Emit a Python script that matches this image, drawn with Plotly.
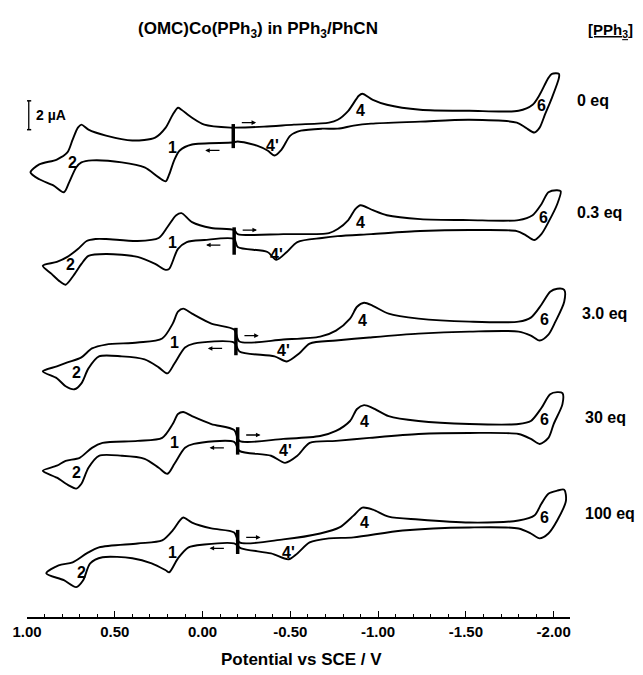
import plotly.graph_objects as go

# ---------------- data (potential in V vs SCE, current in uA relative to start point) -------------
conc_labels = ["0 eq", "0.3 eq", "3.0 eq", "30 eq", "100 eq"]
offsets = [33.38, 26.07, 19.10, 12.21, 5.24]  # vertical stacking offsets (uA)

E_0 = [0.98, 0.93, 0.83, 0.77, 0.74, 0.71, 0.69, 0.65, 0.55, 0.40, 0.27, 0.21, 0.17, 0.14, 0.12, 0.06, -0.01,
       -0.16, -0.18, -0.35, -0.52, -0.72, -0.77, -0.83, -0.89, -0.91, -0.97, -1.05, -1.24, -1.52, -1.80, -1.88,
       -1.92, -1.97, -1.99, -2.03, -2.03, -1.99, -1.95, -1.92, -1.89, -1.84, -1.79, -1.52, -1.24, -0.96, -0.86,
       -0.77, -0.68, -0.56, -0.50, -0.45, -0.41, -0.37, -0.31, -0.20, -0.17, 0.06, 0.13, 0.16, 0.19, 0.21, 0.25,
       0.33, 0.46, 0.63, 0.69, 0.72, 0.76, 0.79, 0.85, 0.93, 0.98]
I_0 = [-2.55, -2.00, -1.66, -1.17, -0.28, 0.55, 0.76, 0.41, 0.00, -0.34, -0.14, 0.55, 1.45, 1.93, 1.79, 1.24, 0.76,
       0.55, 0.55, 0.62, 0.76, 0.90, 1.10, 1.72, 2.76, 2.90, 2.48, 2.14, 1.79, 1.72, 1.72, 2.14, 2.83, 4.00, 4.28,
       4.28, 4.00, 2.62, 1.45, 0.55, 0.21, 0.55, 0.90, 1.10, 0.97, 0.83, 0.69, 0.48, 0.48, 0.34, 0.00, -0.97, -1.38,
       -1.03, -0.69, -0.41, -0.48, -0.62, -1.03, -1.66, -2.69, -3.17, -2.90, -2.21, -1.86, -1.72, -1.86, -2.21,
       -3.24, -3.93, -3.45, -3.03, -2.55]

E_03 = [0.91, 0.83, 0.77, 0.71, 0.66, 0.61, 0.55, 0.37, 0.25, 0.20, 0.15, 0.12, 0.06, -0.05, -0.18, -0.20, -0.46,
        -0.72, -0.77, -0.83, -0.87, -0.90, -0.97, -1.05, -1.24, -1.52, -1.80, -1.88, -1.93, -1.97, -2.02, -2.04,
        -2.02, -1.97, -1.93, -1.89, -1.84, -1.79, -1.52, -1.24, -0.96, -0.77, -0.68, -0.54, -0.48, -0.42, -0.37,
        -0.20, -0.18, -0.01, 0.09, 0.14, 0.19, 0.21, 0.27, 0.37, 0.55, 0.65, 0.69, 0.74, 0.78, 0.81, 0.86, 0.91]
I_03 = [-1.72, -1.45, -1.10, -0.55, 0.00, 0.14, 0.14, 0.00, 0.21, 0.97, 1.79, 1.93, 1.31, 0.90, 0.76, 0.48, 0.48,
        0.55, 0.83, 1.45, 2.21, 2.48, 2.14, 1.79, 1.52, 1.45, 1.45, 1.79, 2.55, 3.38, 3.52, 3.45, 2.55, 1.31, 0.48,
        0.07, 0.41, 0.69, 0.76, 0.69, 0.48, 0.34, 0.21, -0.07, -0.76, -1.31, -0.76, -0.41, 0.14, 0.07, -0.07,
        -0.55, -1.93, -2.00, -1.59, -1.10, -0.90, -1.03, -1.59, -2.48, -3.03, -2.83, -2.28, -1.72]

E_3 = [0.91, 0.83, 0.77, 0.69, 0.63, 0.55, 0.37, 0.23, 0.17, 0.14, 0.11, 0.06, -0.05, -0.18, -0.21, -0.46, -0.67,
       -0.76, -0.84, -0.88, -0.92, -0.97, -1.06, -1.23, -1.52, -1.80, -1.87, -1.93, -1.98, -2.02, -2.06, -2.06,
       -2.01, -1.97, -1.92, -1.87, -1.80, -1.52, -1.23, -0.95, -0.76, -0.61, -0.55, -0.48, -0.41, -0.21, -0.18,
       0.05, 0.10, 0.16, 0.20, 0.25, 0.33, 0.46, 0.59, 0.65, 0.69, 0.73, 0.78, 0.83, 0.91]
I_3 = [-2.07, -1.72, -1.45, -1.10, -0.48, -0.21, -0.07, 0.21, 1.24, 2.07, 2.28, 1.93, 1.24, 0.83, 0.00, 0.14, 0.34,
       0.76, 1.59, 2.41, 2.69, 2.48, 1.93, 1.59, 1.38, 1.38, 1.66, 2.55, 3.45, 3.66, 3.59, 2.76, 1.38, 0.48, 0.07,
       0.41, 0.69, 0.69, 0.55, 0.28, 0.07, -0.14, -0.83, -1.38, -1.03, -0.69, -0.07, -0.14, -0.41, -1.52, -2.21,
       -1.79, -1.24, -1.03, -1.03, -1.86, -2.90, -3.31, -3.10, -2.55, -2.07]

E_30 = [0.91, 0.83, 0.78, 0.70, 0.63, 0.57, 0.37, 0.23, 0.17, 0.14, 0.11, 0.06, -0.05, -0.18, -0.21, -0.46, -0.67,
        -0.76, -0.84, -0.88, -0.92, -0.97, -1.06, -1.23, -1.52, -1.80, -1.87, -1.93, -1.98, -2.02, -2.05, -2.05,
        -2.00, -1.97, -1.92, -1.87, -1.80, -1.52, -1.23, -0.95, -0.76, -0.61, -0.54, -0.47, -0.39, -0.21, -0.18,
        0.05, 0.10, 0.16, 0.20, 0.25, 0.33, 0.46, 0.59, 0.65, 0.69, 0.72, 0.76, 0.83, 0.91]
I_30 = [-2.07, -1.72, -1.38, -1.17, -0.48, -0.14, 0.00, 0.21, 1.17, 1.86, 2.00, 1.72, 1.17, 0.76, 0.00, 0.14, 0.34,
        0.69, 1.38, 2.21, 2.48, 2.28, 1.72, 1.38, 1.17, 1.17, 1.38, 2.28, 3.24, 3.38, 3.31, 2.55, 1.17, 0.21, -0.21,
        0.14, 0.48, 0.55, 0.48, 0.21, 0.00, -0.14, -1.03, -1.52, -1.03, -0.69, -0.07, -0.21, -0.48, -1.59, -2.28,
        -1.86, -1.24, -1.03, -1.03, -1.86, -2.97, -3.31, -3.10, -2.55, -2.07]

E_100 = [0.89, 0.82, 0.74, 0.66, 0.59, 0.37, 0.23, 0.17, 0.13, 0.11, 0.06, -0.05, -0.18, -0.21, -0.46, -0.67, -0.78,
         -0.86, -0.91, -0.97, -1.06, -1.23, -1.52, -1.80, -1.89, -1.93, -1.97, -2.02, -2.06, -2.07, -2.02, -1.97,
         -1.92, -1.87, -1.80, -1.52, -1.14, -0.86, -0.72, -0.61, -0.54, -0.49, -0.39, -0.22, -0.18, -0.01, 0.08,
         0.14, 0.19, 0.21, 0.29, 0.40, 0.57, 0.64, 0.68, 0.72, 0.79, 0.89]
I_100 = [-2.21, -1.66, -1.45, -0.83, -0.41, -0.14, 0.07, 0.76, 1.45, 1.66, 1.31, 0.90, 0.62, -0.07, 0.14, 0.55, 0.97,
         1.79, 2.34, 2.21, 1.72, 1.52, 1.31, 1.45, 1.79, 2.62, 3.31, 3.52, 3.59, 2.83, 1.45, 0.55, 0.21, 0.55, 0.90,
         0.97, 0.76, 0.28, 0.21, -0.07, -0.83, -1.24, -0.83, -0.48, -0.14, -0.21, -0.41, -1.17, -2.14, -2.00,
         -1.52, -1.17, -1.10, -1.52, -2.69, -3.17, -2.69, -2.21]

potentials = [E_0, E_03, E_3, E_30, E_100]
currents = [I_0, I_03, I_3, I_30, I_100]

# initial-potential marker (V) and its extent (uA)
start_E = [-0.175, -0.18, -0.19, -0.20, -0.20]
start_top = [0.80, 0.95, 0.95, 0.95, 0.80]
start_bot = [-0.87, -0.95, -0.95, -0.95, -0.87]

# peak labels: text, potential, current (relative)
peak_text = ["2", "1", "4'", "4", "6"]
peak_E = [[0.74, 0.17, -0.40, -0.90, -1.93],
          [0.75, 0.17, -0.42, -0.90, -1.94],
          [0.72, 0.16, -0.46, -0.91, -1.95],
          [0.72, 0.16, -0.47, -0.92, -1.95],
          [0.69, 0.17, -0.49, -0.92, -1.95]]
peak_I = [[-1.86, -0.83, -0.69, 1.72, 2.07],
          [-1.66, -0.07, -0.90, 1.31, 1.66],
          [-2.14, -0.07, -0.62, 1.45, 1.52],
          [-2.21, -0.14, -0.69, 1.38, 1.45],
          [-2.14, -0.76, -0.76, 1.31, 1.66]]

# scan-direction arrows (current level, relative)
arrow_fwd_I = [0.90, 0.76, 0.41, 0.41, 0.28]
arrow_rev_I = [-1.03, -0.28, -0.48, -0.48, -0.48]

conc_label_x = [1.009, 1.009, 1.018, 1.024, 1.024]   # paper x of label left edge
conc_label_I = [2.41, 2.00, 1.93, 1.59, 1.93]

tick_vals = [1.0, 0.5, 0.0, -0.5, -1.0, -1.5, -2.0]
tick_text = ["1.00", "0.50", "0.00", "-0.50", "-1.00", "-1.50", "-2.00"]

# ---------------- figure ----------------
FONT = "Liberation Sans, Arial, Helvetica, sans-serif"
fig = go.Figure()

for k in range(len(potentials)):
    off = offsets[k]
    fig.add_trace(go.Scatter(
        x=potentials[k], y=[v + off for v in currents[k]], mode="lines",
        line=dict(color="black", width=1.9, shape="spline", smoothing=0.8),
        hoverinfo="skip", showlegend=False))
    # start marker
    fig.add_trace(go.Scatter(
        x=[start_E[k], start_E[k]], y=[start_bot[k] + off, start_top[k] + off], mode="lines",
        line=dict(color="black", width=3.5), hoverinfo="skip", showlegend=False))
    # peak labels
    for t, e, i in zip(peak_text, peak_E[k], peak_I[k]):
        fig.add_annotation(x=e, y=i + off, text=t, showarrow=False,
                           font=dict(family=FONT, size=16, color="black", weight="bold"))
    # arrows
    e0 = start_E[k]
    fig.add_annotation(x=e0 - 0.13, y=arrow_fwd_I[k] + off, ax=e0 - 0.04, ay=arrow_fwd_I[k] + off,
                       xref="x", yref="y", axref="x", ayref="y", text="", showarrow=True,
                       arrowhead=2, arrowsize=0.7, arrowwidth=1.3, arrowcolor="black")
    fig.add_annotation(x=e0 + 0.16, y=arrow_rev_I[k] + off, ax=e0 + 0.07, ay=arrow_rev_I[k] + off,
                       xref="x", yref="y", axref="x", ayref="y", text="", showarrow=True,
                       arrowhead=2, arrowsize=0.7, arrowwidth=1.3, arrowcolor="black")
    # concentration label
    fig.add_annotation(xref="paper", yref="y", x=conc_label_x[k], y=conc_label_I[k] + off,
                       text=conc_labels[k], showarrow=False, xanchor="left", yanchor="middle",
                       font=dict(family=FONT, size=16, color="black", weight="bold"))

# 2 uA scale bar
sb_E, sb_top = 0.99, 35.79
fig.add_trace(go.Scatter(x=[sb_E, sb_E], y=[sb_top, sb_top - 2.0], mode="lines",
                         line=dict(color="black", width=1.3), hoverinfo="skip", showlegend=False))
for yy in (sb_top, sb_top - 2.0):
    fig.add_trace(go.Scatter(x=[sb_E + 0.014, sb_E - 0.014], y=[yy, yy], mode="lines",
                             line=dict(color="black", width=1.5), hoverinfo="skip", showlegend=False))
fig.add_annotation(x=0.962, y=sb_top - 0.95, text="2 µA", showarrow=False, xanchor="left", yanchor="middle",
                   font=dict(family=FONT, size=14, color="black", weight="bold"))

# titles
fig.add_annotation(xref="paper", yref="paper", x=0.426, y=1.0498, xanchor="center", yanchor="middle",
                   text="(OMC)Co(PPh<sub>3</sub>) in PPh<sub>3</sub>/PhCN",
                   showarrow=False, font=dict(family=FONT, size=17, color="black", weight="bold"))
fig.add_annotation(xref="paper", yref="paper", x=1.075, y=1.0498, xanchor="center", yanchor="middle",
                   text="<u>[PPh<sub>3</sub>]</u>",
                   showarrow=False, font=dict(family=FONT, size=15, color="black", weight="bold"))
fig.add_annotation(xref="paper", yref="paper", x=0.506, y=-0.0765, xanchor="center", yanchor="middle",
                   text="Potential vs SCE / V",
                   showarrow=False, font=dict(family=FONT, size=17, color="black", weight="bold"))

fig.update_layout(
    width=643, height=675, margin=dict(l=21, r=73, t=58, b=58),
    paper_bgcolor="white", plot_bgcolor="white",
    xaxis=dict(range=[1.0, -2.093], showline=True, linecolor="black", linewidth=1.6,
               ticks="inside", ticklen=6, tickwidth=1.3, tickcolor="black",
               tickmode="array", tickvals=tick_vals, ticktext=tick_text,
               tickfont=dict(family=FONT, size=15, color="black", weight="bold"),
               minor=dict(ticks="inside", ticklen=3, tickwidth=1, tickcolor="black", tickmode="linear",
                          tick0=0, dtick=0.1, showgrid=False),
               showgrid=False, zeroline=False),
    yaxis=dict(range=[0, 38.76], visible=False, showgrid=False, zeroline=False),
)

fig.write_html("out.html")
